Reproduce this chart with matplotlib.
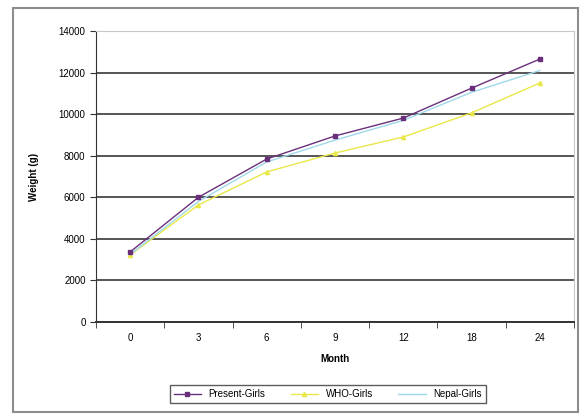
import matplotlib.pyplot as plt
from matplotlib.patches import Rectangle

plt.rcParams['font.family'] = ['Liberation Sans', 'DejaVu Sans']

# データ
months = ['0', '3', '6', '9', '12', '18', '24']
present_girls = [3370, 6000, 7840, 8950, 9810, 11250, 12650]
who_girls = [3230, 5630, 7220, 8130, 8900, 10060, 11500]
nepal_girls = [3250, 5800, 7700, 8750, 9700, 11050, 12100]

fig = plt.figure(figsize=(5.86, 4.17), dpi=100)
fig.patches.append(Rectangle((0.022, 0.012), 0.965, 0.968, transform=fig.transFigure,
                             fill=False, edgecolor='#8c8c8c', linewidth=1.5))

ax = fig.add_axes([0.1638, 0.2278, 0.8157, 0.6979])
x = list(range(len(months)))

ax.plot(x, present_girls, color='#6a2f7a', linewidth=1, marker='s', markersize=3,
        label='Present-Girls', zorder=4)
ax.plot(x, who_girls, color='#e8e84a', linewidth=1, marker='^', markersize=3,
        label='WHO-Girls', zorder=3)
ax.plot(x, nepal_girls, color='#9fd8ea', linewidth=1, label='Nepal-Girls', zorder=3)

ax.set_xlim(-0.5, len(months) - 0.5)
ax.set_ylim(0, 14000)
ax.set_yticks(range(0, 14001, 2000))
ax.set_xticks(x)
ax.set_xticklabels(months)
ax.set_xticks([i - 0.5 for i in range(len(months) + 1)], minor=True)
ax.tick_params(axis='x', which='major', length=0, labelsize=7, pad=8)
ax.tick_params(axis='x', which='minor', length=4, direction='out', color='#333333')
ax.tick_params(axis='y', length=4, direction='out', labelsize=7, color='#333333')

ax.yaxis.grid(True, color='#555555', linewidth=1.4)
ax.set_axisbelow(True)
for side in ['top', 'right']:
    ax.spines[side].set_color('#c8c8c8')
ax.spines['left'].set_color('#333333')
ax.spines['bottom'].set_color('#333333')
ax.spines['bottom'].set_linewidth(1.4)

ax.set_xlabel('Month', fontsize=7, fontweight='bold', labelpad=8)
ax.set_ylabel('Weight (g)', fontsize=7, fontweight='bold', labelpad=14)

ax.legend(loc='upper center', bbox_to_anchor=(0.485, -0.2), ncol=3, fontsize=7,
          frameon=True, fancybox=False, edgecolor='#333333', handlelength=2.8,
          borderpad=0.4, columnspacing=2.6)

fig.savefig('out.png', dpi=100)
